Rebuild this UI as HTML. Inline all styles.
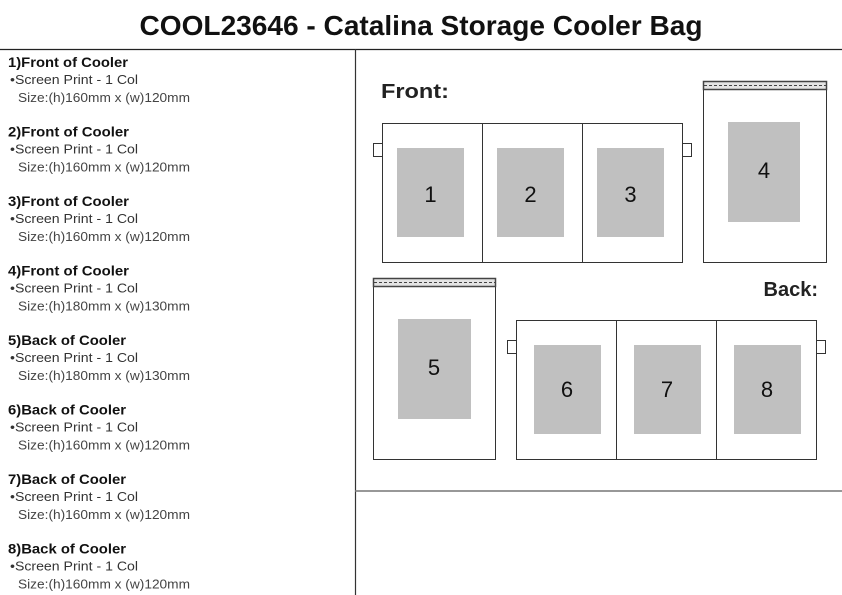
<!DOCTYPE html>
<html><head><meta charset="utf-8"><style>
html,body{margin:0;padding:0;background:#fff;}
svg{display:block;}
</style></head><body>
<svg width="842" height="595" viewBox="0 0 842 595" xmlns="http://www.w3.org/2000/svg" font-family="Liberation Sans, sans-serif">
<defs>
<g id="f1"><text x="8" y="67" font-size="13.5" font-weight="bold" textLength="120" lengthAdjust="spacingAndGlyphs">1)Front of Cooler</text></g>
</defs>
<rect width="842" height="595" fill="#fff"/>
<text x="421" y="35" text-anchor="middle" font-size="28" font-weight="bold" textLength="563" lengthAdjust="spacingAndGlyphs" fill="#111">COOL23646 - Catalina Storage Cooler Bag</text>
<line x1="0" y1="49.5" x2="842" y2="49.5" stroke="#222" stroke-width="1.2"/>
<line x1="355.5" y1="49" x2="355.5" y2="595" stroke="#333" stroke-width="1.2"/>
<line x1="355" y1="491" x2="842" y2="491" stroke="#777" stroke-width="1.5"/>

<g fill="#111">
<g transform="translate(0,0)">
<text x="8" y="67" font-size="13.5" font-weight="bold" textLength="120" lengthAdjust="spacingAndGlyphs">1)Front of Cooler</text>
<text x="10" y="84" font-size="13" fill="#333" textLength="128" lengthAdjust="spacingAndGlyphs">•Screen Print - 1 Col</text>
<text x="18" y="102" font-size="13" fill="#444" textLength="172" lengthAdjust="spacingAndGlyphs">Size:(h)160mm x (w)120mm</text>
</g>
<g transform="translate(0,69.5)">
<text x="8" y="67" font-size="13.5" font-weight="bold" textLength="121" lengthAdjust="spacingAndGlyphs">2)Front of Cooler</text>
<text x="10" y="84" font-size="13" fill="#333" textLength="128" lengthAdjust="spacingAndGlyphs">•Screen Print - 1 Col</text>
<text x="18" y="102" font-size="13" fill="#444" textLength="172" lengthAdjust="spacingAndGlyphs">Size:(h)160mm x (w)120mm</text>
</g>
<g transform="translate(0,139)">
<text x="8" y="67" font-size="13.5" font-weight="bold" textLength="121" lengthAdjust="spacingAndGlyphs">3)Front of Cooler</text>
<text x="10" y="84" font-size="13" fill="#333" textLength="128" lengthAdjust="spacingAndGlyphs">•Screen Print - 1 Col</text>
<text x="18" y="102" font-size="13" fill="#444" textLength="172" lengthAdjust="spacingAndGlyphs">Size:(h)160mm x (w)120mm</text>
</g>
<g transform="translate(0,208.5)">
<text x="8" y="67" font-size="13.5" font-weight="bold" textLength="121" lengthAdjust="spacingAndGlyphs">4)Front of Cooler</text>
<text x="10" y="84" font-size="13" fill="#333" textLength="128" lengthAdjust="spacingAndGlyphs">•Screen Print - 1 Col</text>
<text x="18" y="102" font-size="13" fill="#444" textLength="172" lengthAdjust="spacingAndGlyphs">Size:(h)180mm x (w)130mm</text>
</g>
<g transform="translate(0,278)">
<text x="8" y="67" font-size="13.5" font-weight="bold" textLength="118" lengthAdjust="spacingAndGlyphs">5)Back of Cooler</text>
<text x="10" y="84" font-size="13" fill="#333" textLength="128" lengthAdjust="spacingAndGlyphs">•Screen Print - 1 Col</text>
<text x="18" y="102" font-size="13" fill="#444" textLength="172" lengthAdjust="spacingAndGlyphs">Size:(h)180mm x (w)130mm</text>
</g>
<g transform="translate(0,347.5)">
<text x="8" y="67" font-size="13.5" font-weight="bold" textLength="118" lengthAdjust="spacingAndGlyphs">6)Back of Cooler</text>
<text x="10" y="84" font-size="13" fill="#333" textLength="128" lengthAdjust="spacingAndGlyphs">•Screen Print - 1 Col</text>
<text x="18" y="102" font-size="13" fill="#444" textLength="172" lengthAdjust="spacingAndGlyphs">Size:(h)160mm x (w)120mm</text>
</g>
<g transform="translate(0,417)">
<text x="8" y="67" font-size="13.5" font-weight="bold" textLength="118" lengthAdjust="spacingAndGlyphs">7)Back of Cooler</text>
<text x="10" y="84" font-size="13" fill="#333" textLength="128" lengthAdjust="spacingAndGlyphs">•Screen Print - 1 Col</text>
<text x="18" y="102" font-size="13" fill="#444" textLength="172" lengthAdjust="spacingAndGlyphs">Size:(h)160mm x (w)120mm</text>
</g>
<g transform="translate(0,486.5)">
<text x="8" y="67" font-size="13.5" font-weight="bold" textLength="118" lengthAdjust="spacingAndGlyphs">8)Back of Cooler</text>
<text x="10" y="84" font-size="13" fill="#333" textLength="128" lengthAdjust="spacingAndGlyphs">•Screen Print - 1 Col</text>
<text x="18" y="102" font-size="13" fill="#444" textLength="172" lengthAdjust="spacingAndGlyphs">Size:(h)160mm x (w)120mm</text>
</g>
</g>

<text x="381" y="98" font-size="20" font-weight="bold" fill="#222" textLength="68" lengthAdjust="spacingAndGlyphs">Front:</text>
<text x="818" y="296" font-size="20" font-weight="bold" fill="#222" text-anchor="end">Back:</text>

<g stroke="#333" stroke-width="1" fill="#fff">
<rect x="373.5" y="143.5" width="9" height="13"/>
<rect x="682.5" y="143.5" width="9" height="13"/>
<rect x="382.5" y="123.5" width="300" height="139"/>
<line x1="482.5" y1="123.5" x2="482.5" y2="262.5"/>
<line x1="582.5" y1="123.5" x2="582.5" y2="262.5"/>
<rect x="703.5" y="81.5" width="123" height="181"/>
<rect x="703.5" y="81.5" width="123" height="8" fill="#e4e4e4" stroke="#444" stroke-width="1.5"/>
<line x1="704" y1="85.5" x2="826" y2="85.5" stroke="#444" stroke-dasharray="3 2"/>
<rect x="373.5" y="278.5" width="122" height="181"/>
<rect x="373.5" y="278.5" width="122" height="8" fill="#e4e4e4" stroke="#444" stroke-width="1.5"/>
<line x1="374" y1="282.5" x2="495" y2="282.5" stroke="#444" stroke-dasharray="3 2"/>
<rect x="507.5" y="340.5" width="9" height="13"/>
<rect x="816.5" y="340.5" width="9" height="13"/>
<rect x="516.5" y="320.5" width="300" height="139"/>
<line x1="616.5" y1="320.5" x2="616.5" y2="459.5"/>
<line x1="716.5" y1="320.5" x2="716.5" y2="459.5"/>
</g>

<g fill="#c0c0c0">
<rect x="397" y="148" width="67" height="89"/>
<rect x="497" y="148" width="67" height="89"/>
<rect x="597" y="148" width="67" height="89"/>
<rect x="728" y="122" width="72" height="100"/>
<rect x="398" y="319" width="73" height="100"/>
<rect x="534" y="345" width="67" height="89"/>
<rect x="634" y="345" width="67" height="89"/>
<rect x="734" y="345" width="67" height="89"/>
</g>
<g font-size="22" fill="#111" text-anchor="middle">
<text x="430.5" y="202">1</text>
<text x="530.5" y="202">2</text>
<text x="630.5" y="202">3</text>
<text x="764" y="178">4</text>
<text x="434" y="375">5</text>
<text x="567" y="397">6</text>
<text x="667" y="397">7</text>
<text x="767" y="397">8</text>
</g>
</svg>
</body></html>
